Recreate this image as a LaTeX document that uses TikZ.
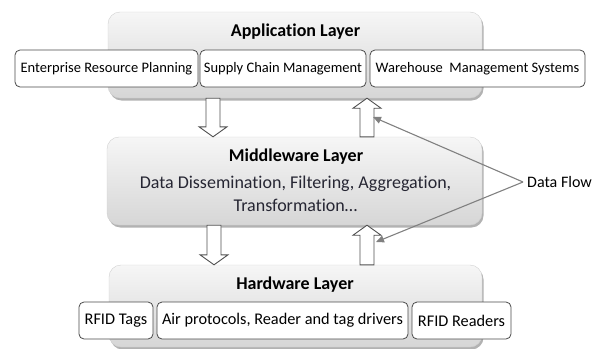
\documentclass[tikz,border=0pt]{standalone}
\usepackage{fontspec}
\setmainfont{Carlito}[Ligatures={NoCommon,NoRare,NoContextual}]
\usetikzlibrary{shadows,calc,arrows.meta}
\definecolor{boxtop}{HTML}{F6F6F6}
\definecolor{boxbot}{HTML}{D6D6D6}
\definecolor{boxedge}{HTML}{D0D0D0}
\definecolor{subedge}{HTML}{4A4A4A}
\definecolor{arredge}{HTML}{505050}
\definecolor{flowgray}{HTML}{808080}
\definecolor{bodytext}{HTML}{262633}
\tikzset{
  layerbox/.style={draw=boxedge, line width=0.4pt, rounded corners=12pt,
    top color=boxtop, bottom color=boxbot, inner sep=0pt,
    drop shadow={shadow xshift=1.5pt, shadow yshift=-2.5pt, opacity=0.55, fill=black!55}},
  subbox/.style={draw=subedge, line width=0.8pt, rounded corners=5pt, fill=white,
    inner sep=0pt, minimum height=37pt},
  appsub/.style={subbox, font=\fontsize{14.5}{17}\selectfont},
  hwsub/.style={subbox, font=\fontsize{16.3}{19}\selectfont},
  layertitle/.style={font=\fontsize{18}{21}\selectfont\bfseries, inner sep=0pt},
  blockarrow/.style={draw=arredge, fill=white, line width=0.9pt, line join=miter,
    to path={let \p1=(\tikztostart), \p2=(\tikztotarget), \n1={sign(\y2-\y1)} in
      (\x1-7pt,\y1) -- (\x1-7pt,\y2-\n1*10pt) -- (\x1-14pt,\y2-\n1*10pt) -- (\x2,\y2)
      -- (\x1+14pt,\y2-\n1*10pt) -- (\x1+7pt,\y2-\n1*10pt) -- (\x1+7pt,\y1) -- cycle}},
  flow/.style={draw=flowgray, line width=1.1pt, -{Triangle[length=8pt,width=7pt]}}
}
\begin{document}
\begin{tikzpicture}[x=1pt,y=-1pt]
\useasboundingbox (0,0) rectangle (604,348);

% layer boxes
\node[layerbox, minimum width=374pt, minimum height=86pt] (app) at (295,55) {};
\node[layerbox, minimum width=375pt, minimum height=88pt] (mid) at (294.5,181) {};
\node[layerbox, minimum width=373pt, minimum height=82pt] (hw) at (295.5,306) {};

% titles
\node[layertitle] (apptitle) at (295.5,32) {Application Layer};
\node[layertitle] (midtitle) at (296,157) {Middleware Layer};
\node[layertitle] (hwtitle) at (295,285) {Hardware Layer};
\node[font=\fontsize{18}{23}\selectfont, text=bodytext, align=center, inner sep=0pt] (midbody) at (295.5,194)
  {Data Dissemination, Filtering, Aggregation,\\Transformation\dots};

% application sub-boxes
\node[appsub, minimum width=183pt] (erp) at (106.5,68.5) {Enterprise Resource Planning};
\node[appsub, minimum width=166pt] (scm) at (283,68.5) {Supply Chain Management};
\node[appsub, minimum width=215pt] (wms) at (477.5,68.5) {Warehouse\ \ Management Systems};

% hardware sub-boxes
\node[hwsub, minimum width=74pt] (tags) at (116,320.5) {RFID Tags};
\node[hwsub, minimum width=251pt] (air) at (282.5,320.5) {Air protocols, Reader and tag drivers};
\node[hwsub, minimum width=99pt] (readers) at (461.5,320.5) {RFID Readers};

% block arrows
\coordinate (a1s) at (app.south -| 213,0);
\coordinate (a1e) at (mid.north -| 213,0);
\coordinate (a2s) at (mid.north -| 367,0);
\coordinate (a2e) at (app.south -| 367,0);
\coordinate (a3s) at (mid.south -| 214,0);
\coordinate (a3e) at (hw.north -| 214,0);
\coordinate (a4s) at (hw.north -| 367,0);
\coordinate (a4e) at (mid.south -| 367,0);
\draw[blockarrow] (a1s) to (a1e);
\draw[blockarrow] (a2s) to (a2e);
\draw[blockarrow] (a3s) to (a3e);
\draw[blockarrow] (a4s) to (a4e);

% data flow
\node[font=\fontsize{16}{19}\selectfont, anchor=west, inner sep=4pt] (df) at (523,182) {Data Flow};
\coordinate (f1) at (373,117);
\coordinate (f2) at (376,242);
\draw[flow] (df.west) -- (f1);
\draw[flow] (df.west) -- (f2);
\end{tikzpicture}
\end{document}
